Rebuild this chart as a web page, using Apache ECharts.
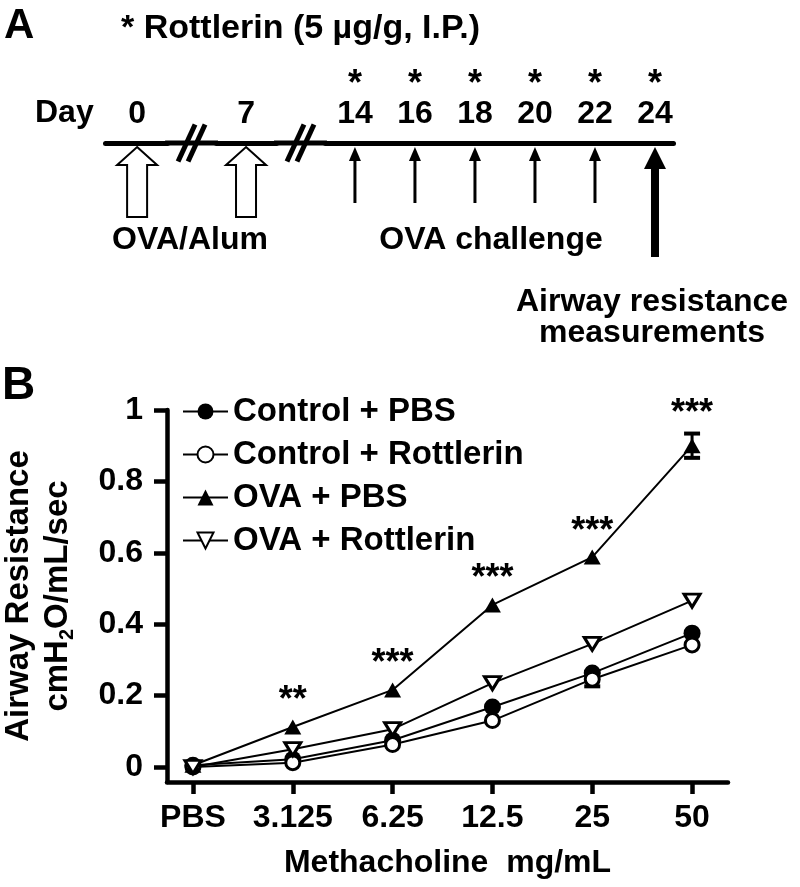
<!DOCTYPE html>
<html>
<head>
<meta charset="utf-8">
<title>Rottlerin and airway resistance</title>
<script src="https://cdn.jsdelivr.net/npm/echarts@6/dist/echarts.min.js"></script>
<style>
  html, body { margin: 0; padding: 0; background: #fff; }
  #chart { width: 800px; height: 887px; }
</style>
</head>
<body>
<div id="chart"></div>
<script>
// panel A - protocol timeline (days)
var timelineDays = [0, 7, 14, 16, 18, 20, 22, 24];
var rottlerinDays = [14, 16, 18, 20, 22, 24];
var alumDays = [0, 7];
var challengeDays = [14, 16, 18, 20, 22];
var measureDays = [24];
var dayBreaks = [[1, 6], [8, 13]];

// panel B - airway resistance (cmH2O/mL/sec)
var doses = ['PBS', '3.125', '6.25', '12.5', '25', '50'];
var ctrlPBS = [0.005, 0.022, 0.075, 0.168, 0.263, 0.375];
var ctrlRott = [0, 0.012, 0.063, 0.13, 0.246, 0.342];
var ovaPBS = [0.005, 0.112, 0.216, 0.454, 0.588, 0.9];
var ovaRott = [0, 0.05, 0.106, 0.235, 0.345, 0.466];
var ovaPBSErr = [0, 0, 0, 0, 0, 0.034];
var ctrlRottErr = [0, 0, 0, 0, 0.02, 0];
var sigMarks = ['', '**', '***', '***', '***', '***'];
var yTicks = [0, 0.2, 0.4, 0.6, 0.8, 1];

var FONT = '"Liberation Sans", Arial, Helvetica, sans-serif';

var myChart = echarts.init(document.getElementById('chart'));

function txt(text, x, y, size, align, extra) {
  var style = {
    text: text, x: x, y: y,
    fill: '#000',
    font: 'bold ' + size + 'px ' + FONT,
    textAlign: align || 'left',
    textVerticalAlign: 'middle'
  };
  if (extra) {
    for (var k in extra) style[k] = extra[k];
  }
  return { type: 'text', style: style };
}

// arrows under the timeline
function arrowRender(kind) {
  return function (params, api) {
    var p = api.coord([api.value(0), 1]);
    var x = p[0], y = p[1] + 4;
    if (kind === 'alum') {
      return {
        type: 'polygon',
        shape: { points: [[x, y], [x + 20, y + 18], [x + 10, y + 18], [x + 10, y + 70],
          [x - 10, y + 70], [x - 10, y + 18], [x - 20, y + 18]] },
        style: { fill: '#fff', stroke: '#000', lineWidth: 2 }
      };
    }
    if (kind === 'challenge') {
      return {
        type: 'group',
        children: [
          { type: 'line', shape: { x1: x, y1: y + 10, x2: x, y2: y + 56 }, style: { stroke: '#000', lineWidth: 3 } },
          { type: 'polygon', shape: { points: [[x, y], [x + 6, y + 14], [x - 6, y + 14]] }, style: { fill: '#000' } }
        ]
      };
    }
    return {
      type: 'group',
      children: [
        { type: 'rect', shape: { x: x - 4, y: y + 18, width: 8, height: 92 }, style: { fill: '#000' } },
        { type: 'polygon', shape: { points: [[x, y], [x + 11, y + 22], [x - 11, y + 22]] }, style: { fill: '#000' } }
      ]
    };
  };
}

// "//" marks on the broken timeline, the axis line carries on through the break
function breakRender(params, api) {
  var a = api.coord([api.value(0), 1]);
  var b = api.coord([api.value(1), 1]);
  var x = (a[0] + b[0]) / 2, y = a[1];
  var kids = [
    { type: 'line', shape: { x1: a[0] - 2, y1: y, x2: b[0] + 2, y2: y }, style: { stroke: '#000', lineWidth: 5 } }
  ];
  [-5, 5].forEach(function (dx) {
    kids.push({
      type: 'line',
      shape: { x1: x + dx - 8.5, y1: y + 18.5, x2: x + dx + 8.5, y2: y - 18.5 },
      style: { stroke: '#000', lineWidth: 5 }
    });
  });
  return { type: 'group', children: kids };
}

// error bars (SEM)
function errRender(params, api) {
  var x = api.value(0), m = api.value(1), e = api.value(2);
  var top = api.coord([x, m + e]);
  var bot = api.coord([x, m - e]);
  var w = 8;
  return {
    type: 'group',
    children: [
      { type: 'line', shape: { x1: top[0], y1: top[1], x2: bot[0], y2: bot[1] }, style: { stroke: '#000', lineWidth: 3 } },
      { type: 'line', shape: { x1: top[0] - w, y1: top[1], x2: top[0] + w, y2: top[1] }, style: { stroke: '#000', lineWidth: 4 } },
      { type: 'line', shape: { x1: bot[0] - w, y1: bot[1], x2: bot[0] + w, y2: bot[1] }, style: { stroke: '#000', lineWidth: 4 } }
    ]
  };
}

function errData(mean, err) {
  var out = [];
  err.forEach(function (e, i) {
    if (e > 0) out.push([i, mean[i], e]);
  });
  return out;
}

function lineSeries(name, values, symbol, filled, size, rotate) {
  return {
    name: name,
    type: 'line',
    xAxisIndex: 1,
    yAxisIndex: 1,
    data: values.map(function (v, i) { return [i, v]; }),
    symbol: symbol,
    symbolSize: size,
    symbolRotate: rotate || 0,
    lineStyle: { color: '#000', width: 2 },
    itemStyle: {
      color: filled ? '#000' : '#fff',
      borderColor: '#000',
      borderWidth: filled ? 0 : 3
    },
    emphasis: { disabled: true }
  };
}

var ovaSeries = lineSeries('OVA + PBS', ovaPBS, 'triangle', true, [17, 15]);
ovaSeries.label = {
  show: true,
  position: 'top',
  distance: 0,
  color: '#000',
  fontFamily: FONT,
  fontWeight: 'bold',
  fontSize: 36,
  formatter: function (p) { return sigMarks[p.dataIndex]; }
};
ovaSeries.data[5] = { value: ovaSeries.data[5], label: { distance: 6 } };

var option = {
  animation: false,
  textStyle: { fontFamily: FONT },
  graphic: [
    txt('A', 4, 26, 42),
    txt('* Rottlerin (5 \u00b5g/g, I.P.)', 121, 29, 34),
    txt('Day', 35, 113, 32),
    txt('OVA/Alum', 190, 240, 32, 'center'),
    txt('OVA challenge', 491, 240, 32, 'center'),
    txt('Airway resistance\nmeasurements', 652, 318, 32, 'center', { lineHeight: 31 }),
    txt('B', 2, 386, 46)
  ],
  legend: {
    orient: 'vertical',
    left: 182,
    top: 395,
    padding: 0,
    itemWidth: 45,
    itemHeight: 20,
    itemGap: 10,
    selectedMode: false,
    textStyle: { color: '#000', fontSize: 33, fontWeight: 'bold', lineHeight: 33, fontFamily: FONT },
    data: ['Control + PBS', 'Control + Rottlerin', 'OVA + PBS', 'OVA + Rottlerin']
  },
  grid: [
    { left: 105, right: 127, top: 143, height: 100, outerBoundsMode: 'none' },
    { left: 167, right: 72, top: 410, bottom: 105, outerBoundsMode: 'none' }
  ],
  xAxis: [
    {
      gridIndex: 0,
      type: 'value',
      position: 'top',
      min: -1.07,
      max: 24.6,
      breaks: dayBreaks.map(function (b) { return { start: b[0], end: b[1], gap: 1.63 }; }),
      breakArea: { show: false },
      axisLine: { onZero: false, lineStyle: { color: '#000', width: 5 } },
      axisTick: { show: false },
      splitLine: { show: false },
      axisLabel: {
        customValues: timelineDays,
        margin: 12,
        formatter: function (v) {
          var s = '{d|' + v + '}';
          return rottlerinDays.indexOf(v) >= 0 ? '{s|*}\n' + s : s;
        },
        rich: {
          d: { fontSize: 32, fontWeight: 'bold', lineHeight: 34, color: '#000', fontFamily: FONT },
          s: { fontSize: 36, fontWeight: 'bold', lineHeight: 24, color: '#000', fontFamily: FONT }
        }
      }
    },
    {
      gridIndex: 1,
      type: 'value',
      min: -0.26,
      max: 5.36,
      name: 'Methacholine  mg/mL',
      nameLocation: 'middle',
      nameGap: 64,
      nameTextStyle: { color: '#000', fontSize: 32, fontWeight: 'bold', lineHeight: 34, fontFamily: FONT },
      axisLine: { onZero: false, lineStyle: { color: '#000', width: 4.5 } },
      axisTick: {
        customValues: doses.map(function (d, i) { return i; }),
        length: 12,
        lineStyle: { color: '#000', width: 4.5 }
      },
      splitLine: { show: false },
      axisLabel: {
        customValues: doses.map(function (d, i) { return i; }),
        margin: 19,
        color: '#000',
        fontSize: 32,
        fontWeight: 'bold',
        lineHeight: 34,
        formatter: function (v) { return doses[Math.round(v)]; }
      }
    }
  ],
  yAxis: [
    { gridIndex: 0, type: 'value', min: 0, max: 1, show: false },
    {
      gridIndex: 1,
      type: 'value',
      min: -0.042,
      max: 1,
      name: '{t|Airway Resistance}\n{t|cmH}{sub|2}{t|O/mL/sec}',
      nameLocation: 'middle',
      nameRotate: 90,
      nameGap: 90,
      nameTextStyle: {
        color: '#000',
        rich: {
          t: { fontSize: 33, fontWeight: 'bold', lineHeight: 39, color: '#000', fontFamily: FONT },
          sub: { fontSize: 20, fontWeight: 'bold', lineHeight: 20, verticalAlign: 'bottom', color: '#000', fontFamily: FONT }
        }
      },
      axisLine: { show: true, onZero: false, lineStyle: { color: '#000', width: 4.5 } },
      axisTick: {
        show: true,
        customValues: yTicks,
        length: 13,
        lineStyle: { color: '#000', width: 4.5 }
      },
      splitLine: { show: false },
      axisLabel: {
        customValues: yTicks,
        margin: 24,
        color: '#000',
        fontSize: 32,
        fontWeight: 'bold'
      }
    }
  ],
  series: [
    {
      type: 'custom', xAxisIndex: 0, yAxisIndex: 0, clip: false, silent: true,
      data: alumDays.map(function (d) { return [d]; }),
      renderItem: arrowRender('alum')
    },
    {
      type: 'custom', xAxisIndex: 0, yAxisIndex: 0, clip: false, silent: true,
      data: challengeDays.map(function (d) { return [d]; }),
      renderItem: arrowRender('challenge')
    },
    {
      type: 'custom', xAxisIndex: 0, yAxisIndex: 0, clip: false, silent: true,
      data: measureDays.map(function (d) { return [d]; }),
      renderItem: arrowRender('measure')
    },
    {
      type: 'custom', xAxisIndex: 0, yAxisIndex: 0, clip: false, silent: true,
      data: dayBreaks.map(function (b) { return [b[0], b[1]]; }),
      renderItem: breakRender
    },
    {
      type: 'custom', xAxisIndex: 1, yAxisIndex: 1, clip: false, silent: true,
      data: errData(ovaPBS, ovaPBSErr).concat(errData(ctrlRott, ctrlRottErr)),
      renderItem: errRender
    },
    lineSeries('Control + PBS', ctrlPBS, 'circle', true, 17),
    lineSeries('Control + Rottlerin', ctrlRott, 'circle', false, 14),
    ovaSeries,
    lineSeries('OVA + Rottlerin', ovaRott, 'triangle', false, [16, 13], 180)
  ]
};

myChart.setOption(option);
window.onresize = function () {
  myChart.resize();
};
</script>
</body>
</html>
